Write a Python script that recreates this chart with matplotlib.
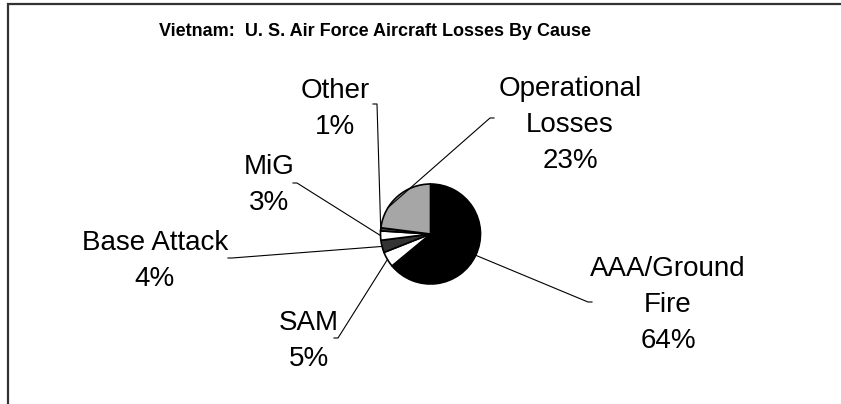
import numpy as np
import matplotlib.pyplot as plt

causes = ['AAA/Ground\nFire', 'SAM', 'Base Attack', 'MiG', 'Other', 'Operational\nLosses']
shares = [64, 5, 4, 3, 1, 23]
colors = ['#000000', '#ffffff', '#333333', '#ffffff', '#444444', '#a6a6a6']

# label centre (px) and start of leader line (px), y measured from top
label_pos = [(668, 305), (309, 341), (155, 261), (269, 185), (335, 109), (570, 125)]
leader_start = [(588, 302), (338, 338), (232, 258), (297, 183), (377, 104), (490, 118)]
anchor = [0.5, 0.5, 0.5, 0.5, 0.5, 0.3]   # where along the wedge arc the leader ends

W, H = 841, 404
plt.rcParams['font.family'] = ['Liberation Sans', 'DejaVu Sans']
fig = plt.figure(figsize=(W / 100, H / 100), dpi=100)
ax = fig.add_axes([0, 0, 1, 1])

cx, cy, r = 430.5, H - 234, 50
wedges, _ = ax.pie(shares, colors=colors, startangle=90, counterclock=False,
                   center=(cx, cy), radius=r, frame=True,
                   wedgeprops=dict(edgecolor='black', linewidth=1.2))
ax.set_xlim(0, W)
ax.set_ylim(0, H)
ax.set_aspect('equal')
ax.axis('off')

for w, name, pct, (lx, ly), (sx, sy), f in zip(wedges, causes, shares, label_pos,
                                              leader_start, anchor):
    if f != 0.5:
        ang = np.deg2rad(w.theta2 - f * (w.theta2 - w.theta1))
    else:
        ang = np.deg2rad((w.theta1 + w.theta2) / 2)
    ex, ey = cx + r * np.cos(ang), cy + r * np.sin(ang)
    step = 4 if sx < cx else -4
    ax.plot([sx - step, sx, ex], [H - sy, H - sy, ey], color='black', linewidth=0.8)
    ax.text(lx, H - ly, f'{name}\n{pct}%', ha='center', va='center',
            fontsize=20, linespacing=1.5)

ax.text(375, H - 31, 'Vietnam:  U. S. Air Force Aircraft Losses By Cause',
        ha='center', va='center', fontsize=13, fontweight='bold')

# chart frame: only left and top edges fall inside the image
ax.plot([8, 8, W + 5], [-5, H - 4, H - 4], color='#333333', linewidth=1.6,
        solid_joinstyle='miter', clip_on=False)

fig.savefig('out.png', dpi=100)
